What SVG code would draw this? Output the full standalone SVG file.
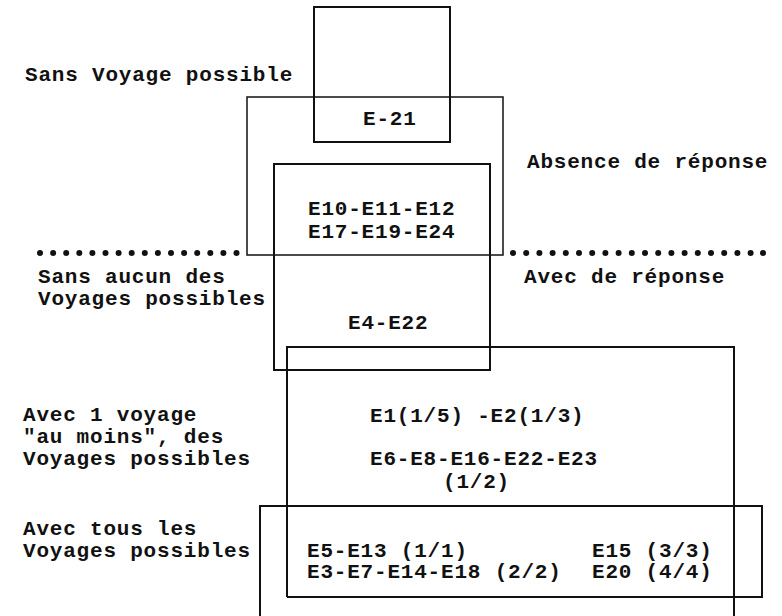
<svg xmlns="http://www.w3.org/2000/svg" width="782" height="616" viewBox="0 0 782 616">
<style>
  text { font-family: "Liberation Mono", "Courier New", monospace; font-size: 21px; font-weight: bold; letter-spacing: 0.8px; fill: #111; }
  .box { fill: none; stroke: #111; stroke-width: 2; }
  .thin { fill: none; stroke: #111; stroke-width: 1.5; }
  .dot { fill: #111; }
</style>
<defs>
  <circle id="d" r="3" class="dot"/>
</defs>
<rect width="782" height="616" fill="#fff"/>
<g id="connectors">
  <g id="dots-left">
    <use href="#d" x="40" y="253"/><use href="#d" x="53.1" y="253"/><use href="#d" x="66.2" y="253"/><use href="#d" x="79.3" y="253"/>
    <use href="#d" x="92.4" y="253"/><use href="#d" x="105.5" y="253"/><use href="#d" x="118.6" y="253"/><use href="#d" x="131.7" y="253"/>
    <use href="#d" x="144.8" y="253"/><use href="#d" x="157.9" y="253"/><use href="#d" x="171" y="253"/><use href="#d" x="184.1" y="253"/>
    <use href="#d" x="197.2" y="253"/><use href="#d" x="210.3" y="253"/><use href="#d" x="223.4" y="253"/><use href="#d" x="236.5" y="253"/>
  </g>
  <g id="dots-right">
    <use href="#d" x="513" y="253"/><use href="#d" x="526.2" y="253"/><use href="#d" x="539.4" y="253"/><use href="#d" x="552.6" y="253"/>
    <use href="#d" x="565.8" y="253"/><use href="#d" x="579" y="253"/><use href="#d" x="592.2" y="253"/><use href="#d" x="605.4" y="253"/>
    <use href="#d" x="618.6" y="253"/><use href="#d" x="631.8" y="253"/><use href="#d" x="645" y="253"/><use href="#d" x="658.2" y="253"/>
    <use href="#d" x="671.4" y="253"/><use href="#d" x="684.6" y="253"/><use href="#d" x="697.8" y="253"/><use href="#d" x="711" y="253"/>
    <use href="#d" x="724.2" y="253"/><use href="#d" x="737.4" y="253"/><use href="#d" x="750.6" y="253"/><use href="#d" x="763" y="253"/>
  </g>
</g>
<g id="box-sans-voyage">
  <rect class="box" x="314" y="7" width="136" height="135"/>
  <text x="363" y="125">E-21</text>
</g>
<g id="box-absence">
  <rect class="thin" x="247" y="97" width="256" height="158"/>
</g>
<g id="box-aucun">
  <rect class="box" x="274" y="164" width="216" height="206"/>
  <text x="308" y="215">E10-E11-E12</text>
  <text x="308" y="238">E17-E19-E24</text>
  <text x="348" y="329">E4-E22</text>
</g>
<g id="box-un-voyage">
  <path class="box" d="M287,597 V347 H734 V616"/>
  <text x="370" y="422">E1(1/5) -E2(1/3)</text>
  <text x="370" y="465">E6-E8-E16-E22-E23</text>
  <text x="443" y="488">(1/2)</text>
</g>
<g id="box-tous">
  <path class="box" d="M260,616 V506 H762 V597 H287"/>
  <text x="307" y="557">E5-E13 (1/1)</text>
  <text x="307" y="578">E3-E7-E14-E18 (2/2)</text>
  <text x="592" y="557">E15 (3/3)</text>
  <text x="592" y="578">E20 (4/4)</text>
</g>
<g id="labels">
  <text x="25" y="81">Sans Voyage possible</text>
  <text x="527" y="168">Absence de réponse</text>
  <text x="38" y="283">Sans aucun des</text>
  <text x="38" y="305">Voyages possibles</text>
  <text x="524" y="283">Avec de réponse</text>
  <text x="23" y="421">Avec 1 voyage</text>
  <text x="23" y="443">"au moins", des</text>
  <text x="23" y="465">Voyages possibles</text>
  <text x="23" y="535">Avec tous les</text>
  <text x="23" y="557">Voyages possibles</text>
</g>
</svg>
